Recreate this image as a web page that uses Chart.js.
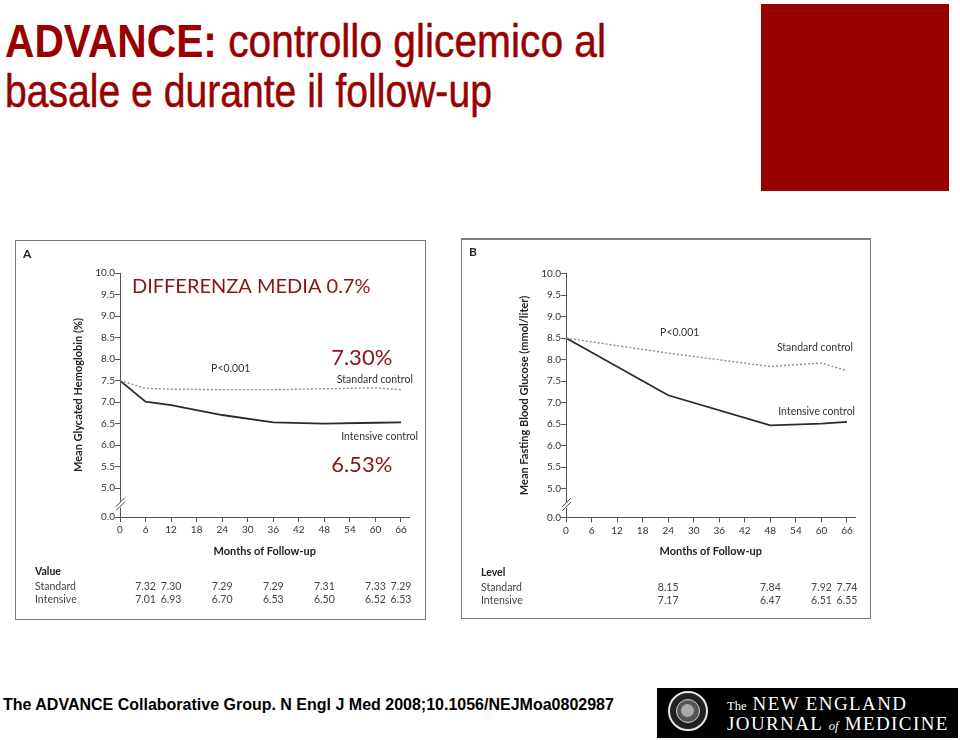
<!DOCTYPE html>
<html>
<head>
<meta charset="utf-8">
<script src="https://cdn.jsdelivr.net/npm/chart.js@4.4.1/dist/chart.umd.min.js"></script>
<style>
  body { margin: 0; width: 960px; height: 740px; background: #fff; position: relative; overflow: hidden; font-family: "Liberation Sans", Arial, sans-serif; }
  .title { position: absolute; left: 5px; color: #990000; font-size: 46px; line-height: 50px; transform-origin: 0 0; white-space: nowrap; -webkit-text-stroke: 0.5px #990000; }
  .title b { font-weight: bold; -webkit-text-stroke: 0; }
  .redbox { position: absolute; left: 761px; top: 4px; width: 188px; height: 187px; background: #990000; }
  .panel { position: absolute; box-sizing: border-box; border: 1.5px solid #7d7d7d; pointer-events: none; }
  canvas { position: absolute; }
  .footer { position: absolute; left: 3px; top: 696px; font-size: 16px; line-height: 18px; font-weight: bold; color: #000; white-space: nowrap; }
  .logo { position: absolute; left: 657px; top: 688px; width: 301px; height: 50px; background: #000; }
  .seal { position: absolute; left: 11px; top: 3px; width: 40px; height: 40px; border: 2px solid #e6e6e6; border-radius: 50%; box-sizing: border-box; background: #222; }
  .seal i { position: absolute; left: 6px; top: 6px; width: 24px; height: 24px; border: 1.5px solid #ccc; border-radius: 50%; box-sizing: border-box; background: #555; }
  .seal i::after { content: ""; position: absolute; left: 4px; top: 4px; width: 13px; height: 13px; border-radius: 50%; background: #aaa; }
  .nejm { position: absolute; left: 70px; color: #fff; font-family: "Liberation Serif", "DejaVu Serif", serif; font-size: 19px; letter-spacing: 1.4px; white-space: nowrap; line-height: 20px; }
  .nejm small { font-size: 12.5px; letter-spacing: 0; }
</style>
</head>
<body>
<div class="title" style="top:16px;transform:scaleX(0.885)"><b>ADVANCE:</b> controllo glicemico al</div>
<div class="title" style="top:66px;transform:scaleX(0.85)">basale e durante il follow-up</div>
<div class="redbox"></div>

<canvas id="chartA" width="411" height="380" style="left:15px;top:240px"></canvas>
<div class="panel" style="left:15px;top:240px;width:411px;height:380px"></div>
<canvas id="chartB" width="410" height="381" style="left:461px;top:238px"></canvas>
<div class="panel" style="left:461px;top:238px;width:410px;height:381px;border-top-width:2px"></div>

<div class="footer">The ADVANCE Collaborative Group. N Engl J Med 2008;10.1056/NEJMoa0802987</div>
<div class="logo">
  <div class="seal"><i></i></div>
  <div class="nejm" style="top:6px"><small>The</small> NEW ENGLAND</div>
  <div class="nejm" style="top:26px">JOURNAL <small><em>of</em></small> MEDICINE</div>
</div>

<script>
// panel A: glycated hemoglobin (%)
const monthsA = [0, 6, 12, 24, 36, 48, 60, 66];
const standardA = [7.5, 7.32, 7.30, 7.29, 7.29, 7.31, 7.33, 7.29];
const intensiveA = [7.5, 7.01, 6.93, 6.70, 6.53, 6.50, 6.52, 6.53];

// panel B: fasting blood glucose (mmol/liter)
const monthsB = [0, 24, 48, 60, 66];
const standardB = [8.5, 8.15, 7.84, 7.92, 7.74];
const intensiveB = [8.5, 7.17, 6.47, 6.51, 6.55];

const xTicks = [0, 6, 12, 18, 24, 30, 36, 42, 48, 54, 60, 66];
const yTicks = [5.0, 5.5, 6.0, 6.5, 7.0, 7.5, 8.0, 8.5, 9.0, 9.5, 10.0];
const yBreakLabel = '0.0';
const yFloor = 4.33; // where the broken axis shows 0.0

const FIG_FONT = 'Lato, "Noto Sans", sans-serif';
const RED = '#8a1414';

function toPoints(months, vals) {
  return months.map((m, i) => ({ x: m, y: vals[i] }));
}

// broken-axis marks "//" on the y axis
const axisBreak = {
  id: 'axisBreak',
  afterDraw(chart) {
    const ctx = chart.ctx;
    const x = chart.scales.x.left;
    const cy = chart.scales.y.getPixelForValue((5 + yFloor) / 2) + 2;
    ctx.save();
    ctx.fillStyle = '#fff';
    ctx.fillRect(x - 2, cy - 3, 4, 6);
    ctx.strokeStyle = '#444';
    ctx.lineWidth = 1;
    ctx.beginPath();
    ctx.moveTo(x - 4, cy + 2); ctx.lineTo(x + 5, cy - 7);
    ctx.moveTo(x - 4, cy + 6); ctx.lineTo(x + 5, cy - 3);
    ctx.stroke();
    ctx.restore();
  }
};

// panel letter, notes and the value table under the axis
const panelText = {
  id: 'panelText',
  afterDraw(chart, args, opts) {
    const ctx = chart.ctx;
    const xs = chart.scales.x, ys = chart.scales.y;
    ctx.save();
    ctx.textBaseline = 'middle';
    ctx.fillStyle = '#222';
    ctx.font = 'bold 12px ' + FIG_FONT;
    ctx.textAlign = 'left';
    ctx.fillText(opts.letter, 8, 14);

    opts.notes.forEach(n => {
      ctx.font = n.font || '10.5px ' + FIG_FONT;
      ctx.fillStyle = n.color || '#333';
      ctx.textAlign = n.align || 'left';
      ctx.textBaseline = n.baseline || 'middle';
      ctx.fillText(n.text, xs.getPixelForValue(n.x), ys.getPixelForValue(n.y));
    });

    const t = opts.table;
    const top = chart.chartArea.bottom;
    ctx.textBaseline = 'middle';
    ctx.textAlign = 'left';
    ctx.fillStyle = '#222';
    ctx.font = 'bold 10.5px ' + FIG_FONT;
    ctx.fillText(t.header, 20, top + 55);
    ctx.font = '10.5px ' + FIG_FONT;
    ctx.fillStyle = '#444';
    t.rows.forEach((r, ri) => {
      const y = top + 70 + ri * 13;
      ctx.textAlign = 'left';
      ctx.fillText(r.label, 20, y);
      ctx.textAlign = 'center';
      r.values.forEach((v, i) => {
        if (r.months[i] === 0) return;
        ctx.fillText(v.toFixed(2), xs.getPixelForValue(r.months[i]), y);
      });
    });
    ctx.restore();
  }
};

function makeChart(id, cfg) {
  new Chart(document.getElementById(id), {
    type: 'line',
    data: {
      datasets: [
        { label: 'Standard', data: toPoints(cfg.months, cfg.standard), borderColor: '#8a8a8a', borderWidth: 1.4, borderDash: [2, 2], pointRadius: 0, tension: 0 },
        { label: 'Intensive', data: toPoints(cfg.months, cfg.intensive), borderColor: '#2a2a2a', borderWidth: 1.8, pointRadius: 0, tension: 0 }
      ]
    },
    options: {
      responsive: false,
      animation: false,
      layout: { padding: cfg.padding },
      plugins: {
        legend: { display: false },
        tooltip: { enabled: false },
        panelText: { letter: cfg.letter, notes: cfg.notes, table: cfg.table }
      },
      scales: {
        x: {
          type: 'linear', min: 0, max: 68,
          afterBuildTicks: s => { s.ticks = xTicks.map(v => ({ value: v })); },
          afterFit: s => { s.height = 45; },
          grid: { drawOnChartArea: false, drawTicks: true, tickLength: 5, color: '#555' },
          border: { color: '#555', width: 1 },
          ticks: { autoSkip: false, maxRotation: 0, padding: 2, color: '#333', font: { family: FIG_FONT, size: 10 } },
          title: { display: true, text: 'Months of Follow-up', color: '#222', font: { family: FIG_FONT, size: 11, weight: 'bold' }, padding: { top: 0, bottom: 4 } }
        },
        y: {
          type: 'linear', min: yFloor, max: 10,
          afterBuildTicks: s => { s.ticks = [yFloor, ...yTicks].map(v => ({ value: v })); },
          afterFit: s => { s.width = 52; },
          grid: { drawOnChartArea: false, drawTicks: true, tickLength: 5, color: '#555' },
          border: { color: '#555', width: 1 },
          ticks: { autoSkip: false, padding: 0, color: '#333', font: { family: FIG_FONT, size: 10 },
                   callback: v => v === yFloor ? yBreakLabel : v.toFixed(1) },
          title: { display: true, text: cfg.yTitle, color: '#222', font: { family: FIG_FONT, size: 11, weight: 'bold' }, padding: { top: 4, bottom: 4 } }
        }
      }
    },
    plugins: [axisBreak, panelText]
  });
}

makeChart('chartA', {
  letter: 'A',
  months: monthsA, standard: standardA, intensive: intensiveA,
  yTitle: 'Mean Glycated Hemoglobin (%)',
  padding: { left: 53, right: 16.5, top: 33, bottom: 58 },
  notes: [
    { text: 'DIFFERENZA MEDIA 0.7%', x: 2.8, y: 9.53, baseline: 'alphabetic', color: RED, font: '20px ' + FIG_FONT },
    { text: '7.30%', x: 49.6, y: 7.87, baseline: 'alphabetic', color: RED, font: '22px ' + FIG_FONT },
    { text: '6.53%', x: 49.6, y: 5.37, baseline: 'alphabetic', color: RED, font: '22px ' + FIG_FONT },
    { text: 'P<0.001', x: 21.4, y: 7.77 },
    { text: 'Standard control', x: 68.8, y: 7.53, align: 'right' },
    { text: 'Intensive control', x: 70, y: 6.19, align: 'right' }
  ],
  table: { header: 'Value', rows: [
    { label: 'Standard', months: monthsA, values: standardA },
    { label: 'Intensive', months: monthsA, values: intensiveA }
  ] }
});

makeChart('chartB', {
  letter: 'B',
  months: monthsB, standard: standardB, intensive: intensiveB,
  yTitle: 'Mean Fasting Blood Glucose (mmol/liter)',
  padding: { left: 53, right: 15.5, top: 35.5, bottom: 56.5 },
  notes: [
    { text: 'P<0.001', x: 22.1, y: 8.62 },
    { text: 'Standard control', x: 67.4, y: 8.27, align: 'right' },
    { text: 'Intensive control', x: 67.9, y: 6.78, align: 'right' }
  ],
  table: { header: 'Level', rows: [
    { label: 'Standard', months: monthsB, values: standardB },
    { label: 'Intensive', months: monthsB, values: intensiveB }
  ] }
});
</script>
</body>
</html>
